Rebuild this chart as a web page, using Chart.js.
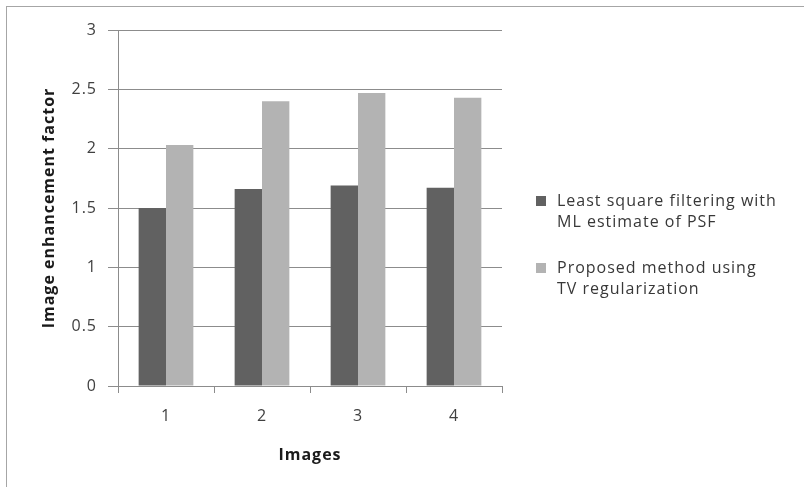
<!DOCTYPE html>
<html>
<head>
<meta charset="utf-8">
<script src="https://cdn.jsdelivr.net/npm/chart.js@4/dist/chart.umd.min.js"></script>
<style>
  html, body { margin: 0; padding: 0; background: #ffffff; }
  #wrap { position: relative; width: 804px; height: 487px; }
</style>
</head>
<body>
<div id="wrap"><canvas id="chart" width="804" height="487"></canvas></div>
<script>
// Categories (image index) and enhancement factors per method
const categories = ["1", "2", "3", "4"];
const leastSquareValues = [1.50, 1.66, 1.69, 1.67];
const proposedValues = [2.03, 2.40, 2.47, 2.43];
const yTicks = [0, 0.5, 1, 1.5, 2, 2.5, 3];
const seriesNames = [
  ["Least square filtering with", "ML estimate of PSF"],
  ["Proposed method using", "TV regularization"]
];

const FONT = "'Open Sans', 'Liberation Sans', sans-serif";
const GRID = "#8c8c8c";
const SPACING = "1px";

// Slightly spaced-out lettering for all canvas text
const spacingPlugin = {
  id: "spacing",
  beforeUpdate(chart) { chart.ctx.letterSpacing = SPACING; },
  beforeLayout(chart) { chart.ctx.letterSpacing = SPACING; },
  beforeDraw(chart) { chart.ctx.letterSpacing = SPACING; }
};

// Light gray frame around the whole figure
const framePlugin = {
  id: "frame",
  beforeDraw(chart) {
    const ctx = chart.ctx;
    ctx.save();
    ctx.fillStyle = "#ffffff";
    ctx.fillRect(0, 0, chart.width, chart.height);
    ctx.strokeStyle = "#a6a6a6";
    ctx.lineWidth = 1;
    ctx.strokeRect(6.5, 6.5, chart.width + 10, chart.height + 10);
    ctx.restore();
  }
};

// Legend on the right with two-line entries
const sideLegend = {
  id: "sideLegend",
  afterDraw(chart) {
    const ctx = chart.ctx;
    const x0 = 536, tx = 557;
    const starts = [201, 268];
    const lh = 21;
    ctx.save();
    ctx.letterSpacing = SPACING;
    ctx.font = "16px " + FONT;
    ctx.textBaseline = "middle";
    ctx.textAlign = "left";
    chart.data.datasets.forEach((ds, i) => {
      const y = starts[i];
      ctx.fillStyle = ds.backgroundColor;
      ctx.fillRect(x0, y - 5, 10, 10);
      ctx.fillStyle = "#383838";
      seriesNames[i].forEach((line, j) => ctx.fillText(line, tx, y + j * lh));
    });
    ctx.restore();
  }
};

new Chart(document.getElementById("chart"), {
  type: "bar",
  data: {
    labels: categories,
    datasets: [
      {
        label: seriesNames[0].join(" "),
        data: leastSquareValues,
        backgroundColor: "#616161",
        categoryPercentage: 0.57,
        barPercentage: 1.0
      },
      {
        label: seriesNames[1].join(" "),
        data: proposedValues,
        backgroundColor: "#b3b3b3",
        categoryPercentage: 0.57,
        barPercentage: 1.0
      }
    ]
  },
  options: {
    responsive: false,
    animation: false,
    devicePixelRatio: 1,
    layout: { padding: { left: 0, top: 30, right: 302, bottom: 0 } },
    plugins: {
      legend: { display: false },
      tooltip: { enabled: false }
    },
    scales: {
      x: {
        offset: true,
        afterFit(scale) { scale.height = 101; },
        grid: {
          offset: true,
          drawOnChartArea: false,
          drawTicks: true,
          tickLength: 7,
          color: GRID,
          tickColor: GRID
        },
        border: { color: GRID, width: 1 },
        ticks: {
          padding: 14,
          color: "#404040",
          font: { family: FONT, size: 16 }
        },
        title: {
          display: true,
          text: "Images",
          color: "#1a1a1a",
          font: { family: FONT, size: 16, weight: "bold" },
          padding: { top: 0, bottom: 22 }
        }
      },
      y: {
        min: 0,
        max: 3,
        afterFit(scale) { scale.width = 118; },
        afterBuildTicks(scale) { scale.ticks = yTicks.map(v => ({ value: v })); },
        grid: {
          color: GRID,
          tickColor: GRID,
          tickLength: 10,
          drawTicks: true
        },
        border: { color: GRID, width: 1 },
        ticks: {
          padding: 11,
          color: "#404040",
          font: { family: FONT, size: 16 },
          callback: v => String(v)
        },
        title: {
          display: true,
          text: "Image enhancement factor",
          color: "#1a1a1a",
          font: { family: FONT, size: 16, weight: "bold" },
          padding: { top: 40, bottom: 0 }
        }
      }
    }
  },
  plugins: [spacingPlugin, framePlugin, sideLegend]
});
</script>
</body>
</html>
